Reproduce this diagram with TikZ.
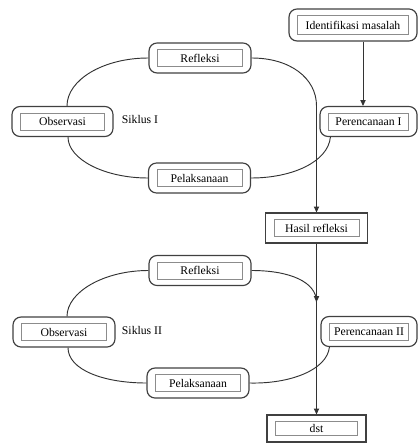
\documentclass[tikz,border=0pt]{standalone}
\usepackage{fontspec}
\setmainfont{Liberation Serif}
\usetikzlibrary{arrows.meta}
\tikzset{
  inbox/.style={path picture={\draw[black!45, line width=0.5pt, sharp corners]
      ([shift={(2.5mm,2mm)}]path picture bounding box.south west) rectangle
      ([shift={(-2.5mm,-2mm)}]path picture bounding box.north east);}},
  stage/.style={draw=black!75, line width=1pt, rounded corners=2.4mm, inbox,
      minimum width=30.6mm, minimum height=9mm, inner sep=0pt},
  flatbox/.style={draw=black!75, line width=1pt, sharp corners, inbox,
      minimum width=30.6mm, minimum height=9mm, inner sep=0pt},
  loopline/.style={draw=black!80, line width=0.8pt},
  arr/.style={loopline, -{Triangle[length=5pt, width=4.5pt]}}
}
\begin{document}
\begin{tikzpicture}[x=0.3mm, y=-0.3mm]
  \useasboundingbox (0,0) rectangle (418,443);
  \node[stage, minimum width=38.4mm, minimum height=9.6mm] (ident) at (353,25) {Identifikasi masalah};
  \node[stage] (ref1) at (200,58) {Refleksi};
  \node[stage, minimum width=30.3mm] (obs1) at (62.5,121.5) {Observasi};
  \node[stage, minimum width=29.1mm] (per1) at (368.5,121.5) {Perencanaan I};
  \node[stage] (pel1) at (199.5,178) {Pelaksanaan};
  \node (sik1) at (140,119) {Siklus I};
  \node[flatbox] (hasil) at (316.5,228) {Hasil refleksi};
  \node[stage] (ref2) at (200,270.5) {Refleksi};
  \node[stage, minimum width=30.6mm] (obs2) at (64,332) {Observasi};
  \node[stage, minimum width=28.8mm] (per2) at (369,331.5) {Perencanaan II};
  \node[stage] (pel2) at (198,383) {Pelaksanaan};
  \node (sik2) at (142,330) {Siklus II};
  \node[flatbox, minimum width=29.7mm, minimum height=8.1mm] (dst) at (316.5,428.5) {dst};
  \coordinate (m2) at (316.5,302);
  \draw[arr] ([xshift=-1.65mm]per1.north |- ident.south) -- ([xshift=-1.65mm]per1.north);
  \draw[loopline] (ref1.west) .. controls (103,58) and (67,80) .. ([xshift=1.35mm]obs1.north);
  \draw[loopline] ([xshift=1.65mm]obs1.south) .. controls (68,159) and (104,178) .. (pel1.west);
  \draw[arr] (ref1.east) .. controls (290,58) and (316.5,78) .. (hasil.north |- per1.north) -- (hasil.north);
  \draw[loopline] ([xshift=3.3mm]per1.south west) .. controls (328,162) and (292,178) .. (pel1.east);
  \draw[arr] (hasil.south) -- (m2);
  \draw[loopline] (ref2.west) .. controls (104,270.5) and (67,292) .. ([xshift=0.9mm]obs2.north);
  \draw[loopline] ([xshift=1.2mm]obs2.south) .. controls (68,370) and (104,383) .. (pel2.west);
  \draw[arr] (ref2.east) .. controls (290,270.5) and (316.5,282) .. (m2) -- (dst.north);
  \draw[loopline] ([xshift=2.7mm]per2.south west) .. controls (327,370) and (290,384) .. (pel2.east);
\end{tikzpicture}
\end{document}
